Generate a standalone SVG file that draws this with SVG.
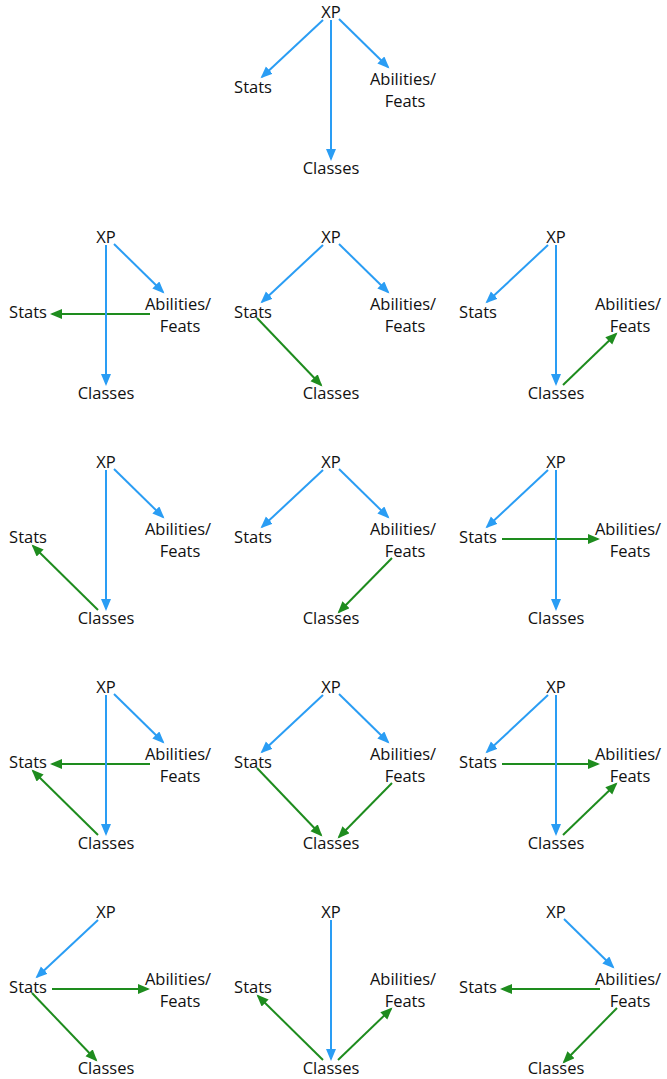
<svg xmlns="http://www.w3.org/2000/svg" width="667" height="1079" viewBox="0 0 667 1079">
<style>
text{font-family:"Open Sans","Liberation Sans",sans-serif;font-size:16.5px;fill:#111;text-anchor:middle}
line{stroke-width:2;fill:none}
.b{stroke:#2a9df4;marker-end:url(#ab)}
.g{stroke:#1e8c1e;marker-end:url(#ag)}
</style>
<defs>
<marker id="ab" markerUnits="userSpaceOnUse" markerWidth="13" markerHeight="11" refX="10" refY="5" orient="auto"><path d="M0,0 L12,5 L0,10 z" fill="#2a9df4"/></marker>
<marker id="ag" markerUnits="userSpaceOnUse" markerWidth="13" markerHeight="11" refX="10" refY="5" orient="auto"><path d="M0,0 L12,5 L0,10 z" fill="#1e8c1e"/></marker>
</defs>
<rect width="667" height="1079" fill="#fff"/>

<g id="connectors">
<line class="g" x1="150" y1="314" x2="52" y2="314"/>
<line class="g" x1="257" y1="318" x2="321" y2="385"/>
<line class="g" x1="563" y1="385" x2="616" y2="334"/>
<line class="g" x1="98" y1="610" x2="33" y2="546"/>
<line class="g" x1="392" y1="558" x2="339" y2="612"/>
<line class="g" x1="502" y1="539" x2="598" y2="539"/>
<line class="g" x1="150" y1="764" x2="52" y2="764"/>
<line class="g" x1="98" y1="835" x2="33" y2="771"/>
<line class="g" x1="257" y1="768" x2="321" y2="835"/>
<line class="g" x1="392" y1="783" x2="339" y2="837"/>
<line class="g" x1="502" y1="764" x2="598" y2="764"/>
<line class="g" x1="563" y1="835" x2="616" y2="784"/>
<line class="g" x1="52" y1="989" x2="148" y2="989"/>
<line class="g" x1="32" y1="993" x2="96" y2="1060"/>
<line class="g" x1="323" y1="1060" x2="258" y2="996"/>
<line class="g" x1="338" y1="1060" x2="391" y2="1009"/>
<line class="g" x1="600" y1="989" x2="502" y2="989"/>
<line class="g" x1="617" y1="1008" x2="564" y2="1062"/>

<line class="b" x1="323" y1="20" x2="262" y2="77"/>
<line class="b" x1="331" y1="20" x2="331" y2="159"/>
<line class="b" x1="339" y1="19" x2="388" y2="67"/>

<line class="b" x1="106" y1="245" x2="106" y2="384"/>
<line class="b" x1="114" y1="244" x2="163" y2="292"/>
<line class="b" x1="323" y1="245" x2="262" y2="302"/>
<line class="b" x1="339" y1="244" x2="388" y2="292"/>
<line class="b" x1="548" y1="245" x2="487" y2="302"/>
<line class="b" x1="556" y1="245" x2="556" y2="384"/>

<line class="b" x1="106" y1="470" x2="106" y2="609"/>
<line class="b" x1="114" y1="469" x2="163" y2="517"/>
<line class="b" x1="323" y1="470" x2="262" y2="527"/>
<line class="b" x1="339" y1="469" x2="388" y2="517"/>
<line class="b" x1="548" y1="470" x2="487" y2="527"/>
<line class="b" x1="556" y1="470" x2="556" y2="609"/>

<line class="b" x1="106" y1="695" x2="106" y2="834"/>
<line class="b" x1="114" y1="694" x2="163" y2="742"/>
<line class="b" x1="323" y1="695" x2="262" y2="752"/>
<line class="b" x1="339" y1="694" x2="388" y2="742"/>
<line class="b" x1="548" y1="695" x2="487" y2="752"/>
<line class="b" x1="556" y1="695" x2="556" y2="834"/>

<line class="b" x1="98" y1="920" x2="37" y2="977"/>
<line class="b" x1="331" y1="920" x2="331" y2="1059"/>
<line class="b" x1="564" y1="919" x2="613" y2="967"/>
</g>

<g id="d0-xp"><text x="331" y="18">XP</text></g>
<g id="d0-stats"><text x="253" y="93">Stats</text></g>
<g id="d0-abil"><text x="403" y="85">Abilities/</text><text x="405" y="107">Feats</text></g>
<g id="d0-classes"><text x="331" y="174">Classes</text></g>

<g id="d1-xp"><text x="106" y="243">XP</text></g>
<g id="d1-stats"><text x="28" y="318">Stats</text></g>
<g id="d1-abil"><text x="178" y="310">Abilities/</text><text x="180" y="332">Feats</text></g>
<g id="d1-classes"><text x="106" y="399">Classes</text></g>

<g id="d2-xp"><text x="331" y="243">XP</text></g>
<g id="d2-stats"><text x="253" y="318">Stats</text></g>
<g id="d2-abil"><text x="403" y="310">Abilities/</text><text x="405" y="332">Feats</text></g>
<g id="d2-classes"><text x="331" y="399">Classes</text></g>

<g id="d3-xp"><text x="556" y="243">XP</text></g>
<g id="d3-stats"><text x="478" y="318">Stats</text></g>
<g id="d3-abil"><text x="628" y="310">Abilities/</text><text x="630" y="332">Feats</text></g>
<g id="d3-classes"><text x="556" y="399">Classes</text></g>

<g id="d4-xp"><text x="106" y="468">XP</text></g>
<g id="d4-stats"><text x="28" y="543">Stats</text></g>
<g id="d4-abil"><text x="178" y="535">Abilities/</text><text x="180" y="557">Feats</text></g>
<g id="d4-classes"><text x="106" y="624">Classes</text></g>

<g id="d5-xp"><text x="331" y="468">XP</text></g>
<g id="d5-stats"><text x="253" y="543">Stats</text></g>
<g id="d5-abil"><text x="403" y="535">Abilities/</text><text x="405" y="557">Feats</text></g>
<g id="d5-classes"><text x="331" y="624">Classes</text></g>

<g id="d6-xp"><text x="556" y="468">XP</text></g>
<g id="d6-stats"><text x="478" y="543">Stats</text></g>
<g id="d6-abil"><text x="628" y="535">Abilities/</text><text x="630" y="557">Feats</text></g>
<g id="d6-classes"><text x="556" y="624">Classes</text></g>

<g id="d7-xp"><text x="106" y="693">XP</text></g>
<g id="d7-stats"><text x="28" y="768">Stats</text></g>
<g id="d7-abil"><text x="178" y="760">Abilities/</text><text x="180" y="782">Feats</text></g>
<g id="d7-classes"><text x="106" y="849">Classes</text></g>

<g id="d8-xp"><text x="331" y="693">XP</text></g>
<g id="d8-stats"><text x="253" y="768">Stats</text></g>
<g id="d8-abil"><text x="403" y="760">Abilities/</text><text x="405" y="782">Feats</text></g>
<g id="d8-classes"><text x="331" y="849">Classes</text></g>

<g id="d9-xp"><text x="556" y="693">XP</text></g>
<g id="d9-stats"><text x="478" y="768">Stats</text></g>
<g id="d9-abil"><text x="628" y="760">Abilities/</text><text x="630" y="782">Feats</text></g>
<g id="d9-classes"><text x="556" y="849">Classes</text></g>

<g id="d10-xp"><text x="106" y="918">XP</text></g>
<g id="d10-stats"><text x="28" y="993">Stats</text></g>
<g id="d10-abil"><text x="178" y="985">Abilities/</text><text x="180" y="1007">Feats</text></g>
<g id="d10-classes"><text x="106" y="1074">Classes</text></g>

<g id="d11-xp"><text x="331" y="918">XP</text></g>
<g id="d11-stats"><text x="253" y="993">Stats</text></g>
<g id="d11-abil"><text x="403" y="985">Abilities/</text><text x="405" y="1007">Feats</text></g>
<g id="d11-classes"><text x="331" y="1074">Classes</text></g>

<g id="d12-xp"><text x="556" y="918">XP</text></g>
<g id="d12-stats"><text x="478" y="993">Stats</text></g>
<g id="d12-abil"><text x="628" y="985">Abilities/</text><text x="630" y="1007">Feats</text></g>
<g id="d12-classes"><text x="556" y="1074">Classes</text></g>
</svg>
